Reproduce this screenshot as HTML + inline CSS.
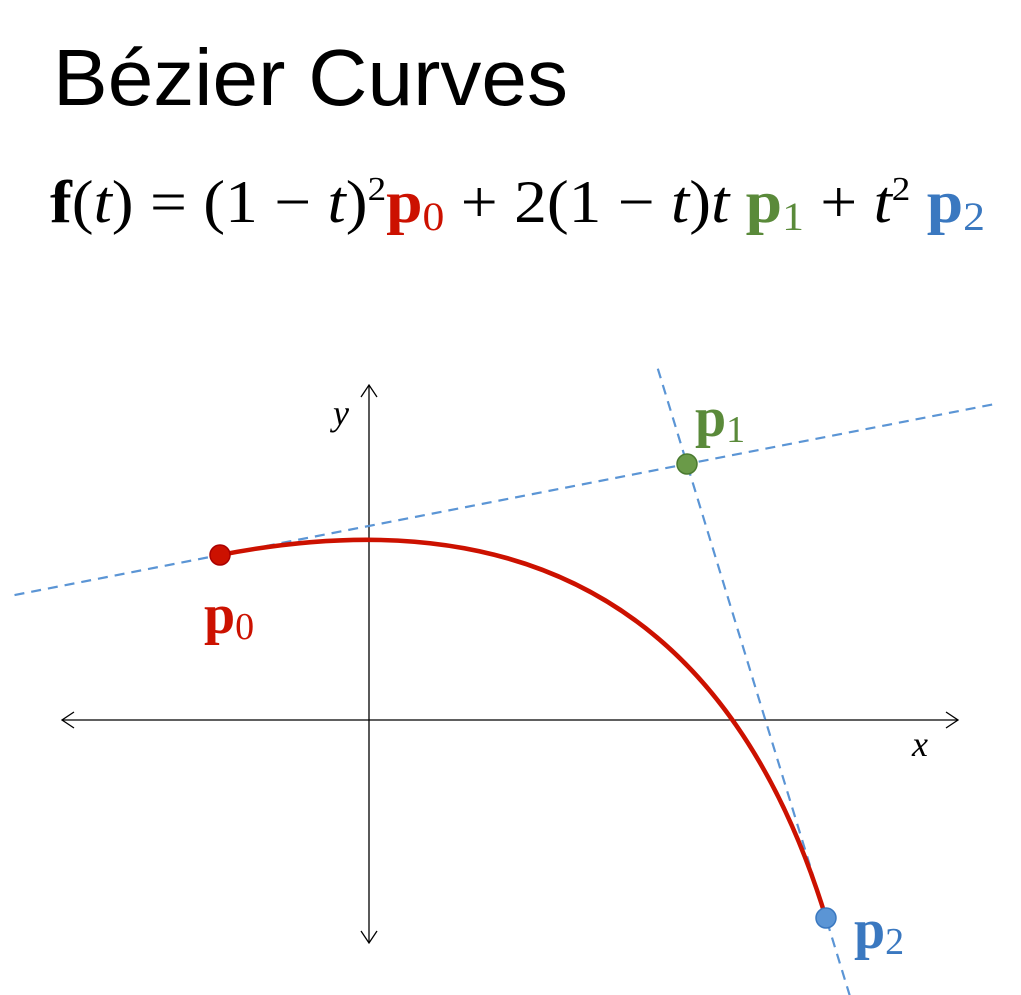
<!DOCTYPE html>
<html><head><meta charset="utf-8"><style>
html,body{margin:0;padding:0;background:#fff;width:1021px;height:995px;overflow:hidden}
svg{display:block}
</style></head><body>
<svg id="chart" width="1021" height="995" viewBox="0 0 1021 995">
<text x="53" y="105" font-family="'Liberation Sans',sans-serif" font-size="80" fill="#000" textLength="515" lengthAdjust="spacingAndGlyphs">Bézier Curves</text>
<text x="50" y="222" font-family="'Liberation Serif',serif" font-size="60" fill="#000" textLength="935" lengthAdjust="spacingAndGlyphs"><tspan font-weight="bold">f</tspan>(<tspan font-style="italic">t</tspan>) = (1 − <tspan font-style="italic">t</tspan>)<tspan font-size="34" dy="-22">2</tspan><tspan dy="22" font-weight="bold" fill="#cc1100">p</tspan><tspan font-size="40" dy="8" fill="#cc1100">0</tspan><tspan dy="-8"> + 2(1 − </tspan><tspan font-style="italic">t</tspan>)<tspan font-style="italic">t</tspan> <tspan font-weight="bold" fill="#5a8a3a">p</tspan><tspan font-size="40" dy="8" fill="#5a8a3a">1</tspan><tspan dy="-8"> + </tspan><tspan font-style="italic">t</tspan><tspan font-size="34" dy="-22">2</tspan><tspan dy="22"> </tspan><tspan font-weight="bold" fill="#3a78c0">p</tspan><tspan font-size="40" dy="8" fill="#3a78c0">2</tspan></text>
<g id="plot"></g>
</svg>
<script>
const pointNames = ["p0","p1","p2"];
const pointX = [220, 687, 826];
const pointY = [555, 464, 918];
const pointColors = ["#cc1100","#6a9a48","#5b95d5"];
const labelColors = ["#cc1100","#5a8a3a","#3a78c0"];
const NS="http://www.w3.org/2000/svg";
const g=document.getElementById('plot');
function mk(tag,attrs){const e=document.createElementNS(NS,tag);for(const k in attrs)e.setAttribute(k,attrs[k]);g.appendChild(e);return e;}
const ax=mk('line',{x1:62,y1:720,x2:958,y2:720,stroke:'#000','stroke-width':1.3});


const ay=mk('line',{x1:369,y1:385,x2:369,y2:943,stroke:'#000','stroke-width':1.3});


const arr=mk('path',{d:'M74,712 L62,720 L74,728 M946,712 L958,720 L946,728 M361,397 L369,385 L377,397 M361,931 L369,943 L377,931',fill:'none',stroke:'#000','stroke-width':1.3});


const xl=mk('text',{x:912,y:756,'font-family':"'Liberation Serif',serif",'font-size':36,'font-style':'italic'});xl.textContent='x';


const yl=mk('text',{x:333,y:425,'font-family':"'Liberation Serif',serif",'font-size':36,'font-style':'italic'});yl.textContent='y';


function ext(i,j,t0,t1,name){const dx=pointX[j]-pointX[i],dy=pointY[j]-pointY[i];
 const l=mk('line',{x1:pointX[i]+dx*t0,y1:pointY[i]+dy*t0,x2:pointX[i]+dx*t1,y2:pointY[i]+dy*t1,stroke:'#5b95d5','stroke-width':2.2,'stroke-dasharray':'10 7'});
 
 }
ext(0,1,-0.44,1.66,'tangent-line-p0-p1');
ext(1,2,-0.21,1.17,'tangent-line-p1-p2');
const c=mk('path',{d:`M${pointX[0]},${pointY[0]} Q${pointX[1]},${pointY[1]} ${pointX[2]},${pointY[2]}`,fill:'none',stroke:'#cc1100','stroke-width':4.5});


const lblOff=[[-16,78],[8,-28],[28,30]];
for(let i=0;i<3;i++){
 const p=mk('circle',{cx:pointX[i],cy:pointY[i],r:10,fill:pointColors[i],stroke:i==0?'#a00':(i==1?'#4a7a30':'#3a78c0'),'stroke-width':1.5});
 
 
 const t=mk('text',{x:pointX[i]+lblOff[i][0],y:pointY[i]+lblOff[i][1],'font-family':"'Liberation Serif',serif",'font-size':56,fill:labelColors[i]});
 const b=document.createElementNS(NS,'tspan');b.setAttribute('font-weight','bold');b.textContent='p';t.appendChild(b);
 const s=document.createElementNS(NS,'tspan');s.setAttribute('font-size','38');s.setAttribute('dy','6');s.textContent=pointNames[i].slice(1);t.appendChild(s);
 
 
}
</script>
</body></html>
